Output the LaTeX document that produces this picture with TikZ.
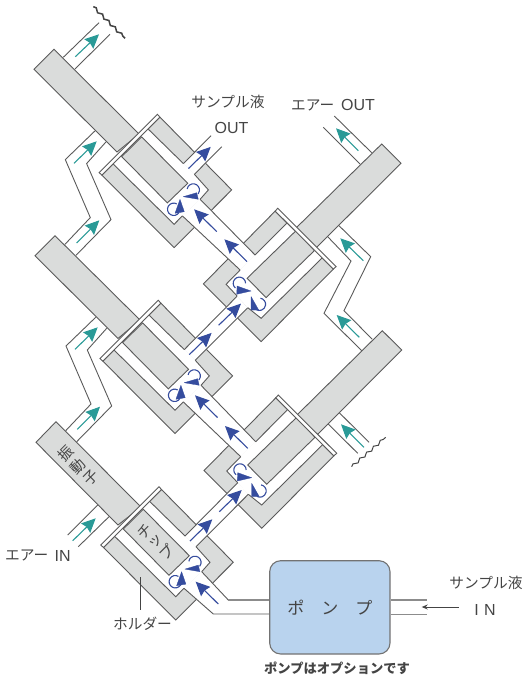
\documentclass[tikz,border=0pt]{standalone}
\usepackage{fontspec}
\setmainfont{Liberation Sans}
\newfontfamily\jpf{Noto Sans CJK JP}
\usetikzlibrary{arrows.meta,decorations.pathmorphing}
\definecolor{graybody}{HTML}{DADCDB}
\definecolor{edgecol}{HTML}{5A5A5A}
\definecolor{bluearr}{HTML}{354C9E}
\definecolor{tealarr}{HTML}{2A9A97}
\definecolor{pumpfill}{HTML}{B9D3EE}
\definecolor{txtcol}{HTML}{444444}
\tikzset{
  solidpart/.style={fill=graybody,draw=edgecol,line width=0.9pt,line join=miter},
  wall/.style={draw=edgecol,line width=0.9pt},
  flangepart/.style={fill=white,draw=edgecol,line width=0.9pt},
  bluearrow/.style={draw=bluearr,line width=1.1pt,-{Stealth[length=14pt,width=13pt,inset=1.5pt]}},
  tealarrow/.style={draw=tealarr,line width=1.1pt,-{Stealth[length=14pt,width=13pt,inset=1.5pt]}},
  swirl/.style={draw=bluearr,line width=1.1pt},
  headfill/.style={fill=bluearr,draw=bluearr,line width=0.3pt,line join=round},
  breakline/.style={draw=txtcol,decorate,decoration={snake,segment length=9pt,amplitude=1.3pt}},
  lab/.style={text=txtcol,inner sep=0pt},
  tiltchar/.style={text=txtcol,inner sep=0pt,rotate=45,font=\jpf\fontsize{14.7}{16}\selectfont},
  pumpline/.style={draw=black!45,line width=1.2pt},
}
% ---- left unit parts, coordinates of the lowest left unit
\newcommand{\LHolder}{\path[solidpart] (103.5,547.5) -- (175.7,620) -- (233.3,562.3) -- (161.5,489.5) -- cycle;}
\newcommand{\LCavity}{\path[fill=white] (114.65,536.3) -- (175.7,596.7) -- (184,588.3) -- (201.7,571.7) -- (210,562.3) -- (196,546.7) -- (185,536) -- (150,501.7) -- cycle;}
\newcommand{\LWalls}{%
  \path[wall] (150,501.7) -- (185,536);
  \path[wall] (196,546.7) -- (210,562.3) -- (201.7,571.7);
  \path[wall] (184,588.3) -- (175.7,596.7) -- (114.65,536.3);}
\newcommand{\LFront}{%
  \path[solidpart] (143.3,509.3) -- (123.3,529) -- (169,575.3) -- (189.3,555.7) -- cycle;
  \path[flangepart] (100.7,545) -- (159,486.7) -- (161.5,489.5) -- (103.5,547.5) -- cycle;}
\newcommand{\LSwirl}{%
  \path[swirl] (194.9,562.4) ++(-170:6.2pt) arc[start angle=-170,end angle=40,radius=6.2pt];
  \path[swirl] (175.3,581.7) ++(-60:6.2pt) arc[start angle=-60,end angle=-330,radius=6.2pt];
  \path[headfill] (184.9,569.1) -- (198.3,565.1) -- (199.9,571.7) -- cycle;
  \path[headfill] (181.6,571.7) -- (176.6,585.7) -- (185.9,584.1) -- cycle;}
% ---- right unit parts, coordinates of the lower right unit
\newcommand{\RHolder}{\path[solidpart] (333.9,455.8) -- (261.7,528.3) -- (204,470.6) -- (275.8,397.8) -- cycle;}
\newcommand{\RCavity}{\path[fill=white] (322.75,444.6) -- (261.7,505) -- (248.3,494.3) -- (237.7,482.7) -- (226.7,471) -- (240.7,456.7) -- (255.7,441.7) -- (287.3,410) -- cycle;}
\newcommand{\RWalls}{%
  \path[wall] (287.3,410) -- (255.7,441.7);
  \path[wall] (240.7,456.7) -- (226.7,471) -- (237.7,482.7);
  \path[wall] (248.3,494.3) -- (261.7,505) -- (322.75,444.6);}
\newcommand{\RFront}{%
  \path[solidpart] (296.7,417.3) -- (247.7,465) -- (266.7,484.3) -- (315,437.3) -- cycle;
  \path[flangepart] (336.7,453.3) -- (278.3,395) -- (275.8,397.8) -- (333.9,455.8) -- cycle;}
\newcommand{\RSwirl}{%
  \path[swirl] (240,470) ++(-230:6.2pt) arc[start angle=-230,end angle=0,radius=6.2pt];
  \path[swirl] (260,491) ++(-80:6.2pt) arc[start angle=-80,end angle=120,radius=6.2pt];
  \path[headfill] (251.7,477.7) -- (237.7,472.7) -- (237.3,481) -- cycle;
  \path[headfill] (251.7,483.3) -- (251.7,496.7) -- (259.3,496.7) -- cycle;}
\begin{document}
\begin{tikzpicture}[x=1pt,y=1pt,yscale=-1]
\useasboundingbox (0,0) rectangle (530,680);
% holders
\begin{scope}[shift={(-1.6,-372.4)}]\LHolder\end{scope}
\begin{scope}[shift={(-0.7,-186.4)}]\LHolder\end{scope}
\LHolder
\begin{scope}[shift={(-0.6,-186.7)}]\RHolder\end{scope}
\RHolder
% white channel fills
\foreach \a/\b in {0/0,-0.7/-186.4}{
  \begin{scope}[shift={(\a,\b)}]
  \path[fill=white] (185,536) -- (237.7,482.7) -- (248.3,494.3) -- (196,546.7) -- cycle;
  \end{scope}}
\path[fill=white] (255.7,441.7) -- (201,385.3) -- (183.3,401.9) -- (240.7,456.7) -- cycle;
\path[fill=white] (255.1,255) -- (200.1,199.3) -- (182.4,215.9) -- (240.1,270) -- cycle;
\path[fill=white] (201.7,571.7) -- (228.3,600) -- (270,600) -- (270,614) -- (213.3,614) -- (184,588.3) -- cycle;
\path[fill=white] (183.4,163.6) -- (211,135.7) -- (221.7,146.7) -- (194.4,174.3) -- cycle;
% cavities
\begin{scope}[shift={(-1.6,-372.4)}]\LCavity\end{scope}
\begin{scope}[shift={(-0.7,-186.4)}]\LCavity\end{scope}
\LCavity
\begin{scope}[shift={(-0.6,-186.7)}]\RCavity\end{scope}
\RCavity
% channel walls
\foreach \a/\b in {0/0,-0.7/-186.4}{
  \begin{scope}[shift={(\a,\b)}]
  \path[wall] (185,536) -- (237.7,482.7);
  \path[wall] (196,546.7) -- (248.3,494.3);
  \end{scope}}
\path[wall] (255.7,441.7) -- (201,385.3);
\path[wall] (240.7,456.7) -- (183.3,401.9);
\path[wall] (255.1,255) -- (200.1,199.3);
\path[wall] (240.1,270) -- (182.4,215.9);
\path[wall] (183.4,163.6) -- (211,135.7);
\path[wall] (194.4,174.3) -- (221.7,146.7);
\begin{scope}[shift={(-1.6,-372.4)}]\LWalls\end{scope}
\begin{scope}[shift={(-0.7,-186.4)}]\LWalls\end{scope}
\LWalls
\begin{scope}[shift={(-0.6,-186.7)}]\RWalls\end{scope}
\RWalls
% vibrators
\path[solidpart] (56,421.7) -- (36,442.3) -- (118,525) -- (141,507) -- cycle;
\path[solidpart] (55,235.7) -- (35,255.7) -- (118,338.5) -- (140,320) -- cycle;
\path[solidpart] (54,49.3) -- (34,69.3) -- (117,152) -- (139,134) -- cycle;
\path[solidpart] (382.3,330.7) -- (401.7,350) -- (317,435) -- (297,415) -- cycle;
\path[solidpart] (381.7,144) -- (401,163.3) -- (316,248) -- (296,228) -- cycle;
% chips and flanges
\begin{scope}[shift={(-1.6,-372.4)}]\LFront\end{scope}
\begin{scope}[shift={(-0.7,-186.4)}]\LFront\end{scope}
\LFront
\begin{scope}[shift={(-0.6,-186.7)}]\RFront\end{scope}
\RFront
% air lines, left
\path[wall] (97.7,505) -- (67.7,535);
\path[wall] (109,516.7) -- (78.3,546.7);
\path[wall] (65.7,430.7) -- (91,404) -- (66,346) -- (95.7,317.3);
\path[wall] (76.7,441.7) -- (111.7,406) -- (87.3,350) -- (106.7,328.3);
\path[wall] (65,244.3) -- (90.3,217.6) -- (65.3,159.6) -- (95,130.9);
\path[wall] (76,255.3) -- (111,219.6) -- (86.6,163.6) -- (106,141.9);
\path[wall] (63.3,57.3) -- (99,22.7);
\path[wall] (75,69) -- (110,34.3);
\path[breakline,line width=1.5pt] (93.3,6.7) -- (125,38.3);
% air lines, right
\path[wall] (360,164) -- (323.3,127.3);
\path[wall] (371.7,152.7) -- (334.3,116);
\path[wall] (327.7,236.7) -- (351,261) -- (324,313.3) -- (361.7,350.7);
\path[wall] (339,225.7) -- (370.7,256.7) -- (344,310.7) -- (372.3,339.3);
\path[wall] (328.3,424) -- (357.7,453.3);
\path[wall] (339.3,412.7) -- (369,442.3);
\path[breakline,line width=1pt] (351.7,466.7) -- (385.7,437.3);
% teal arrows
\path[tealarrow] (72.7,540.7) -- (95.7,518.3);
\path[tealarrow] (77.3,429.3) -- (100,406.7);
\path[tealarrow] (75,349.3) -- (97.7,327.3);
\path[tealarrow] (76.6,243) -- (99.3,220.3);
\path[tealarrow] (74,163.3) -- (96.7,141.3);
\path[tealarrow] (75.3,56.7) -- (99,34.3);
\path[tealarrow] (358.3,150.7) -- (336,128.3);
\path[tealarrow] (363.3,260.7) -- (340.3,238.3);
\path[tealarrow] (359.3,337.3) -- (336.7,315);
\path[tealarrow] (364,447.3) -- (341,424.3);
% blue arrows
\path[bluearrow] (218.3,604) -- (195.7,581.7);
\path[bluearrow] (190,541) -- (212.3,519.3);
\path[bluearrow] (219.3,511.7) -- (241.7,490);
\path[bluearrow] (247.7,448.3) -- (225,426);
\path[bluearrow] (217.6,417.6) -- (195,395.3);
\path[bluearrow] (189.3,354.6) -- (211.6,332.9);
\path[bluearrow] (218.6,325.3) -- (241,303.6);
\path[bluearrow] (247,261.6) -- (224.4,239.3);
\path[bluearrow] (216.7,231.6) -- (194.1,209.3);
\path[bluearrow] (188.4,168.6) -- (210.7,146.9);
% swirls
\begin{scope}[shift={(-1.6,-372.4)}]\LSwirl\end{scope}
\begin{scope}[shift={(-0.7,-186.4)}]\LSwirl\end{scope}
\LSwirl
\begin{scope}[shift={(-0.6,-186.7)}]\RSwirl\end{scope}
\RSwirl
% inlet walls and pump
\coordinate (inA) at (228.3,600);
\coordinate (inB) at (213.3,614);
\coordinate (outA) at (427,600);
\coordinate (outB) at (427,614.7);
\node[draw=black!55,line width=1.1pt,fill=pumpfill,rounded corners=11pt,minimum width=120.3pt,minimum height=93.3pt,inner sep=0pt,text=txtcol,font=\jpf\fontsize{17}{20}\selectfont] (pump) at (329.85,607.35) {ポ　ン　プ};
\path[wall] (201.7,571.7) -- (inA);
\path[pumpline] (inA) -- (inA -| pump.west);
\path[wall] (184,588.3) -- (inB) -- (inB -| pump.west);
\path[pumpline] (outA -| pump.east) -- (outA);
\path[pumpline] (outB -| pump.east) -- (outB);
\coordinate (feedS) at (458.7,607);
\coordinate (feedE) at (421.7,607);
\path[draw=txtcol,line width=0.9pt,-{Stealth[length=6pt,width=5pt]}] (feedS) -- (feedE);
% labels
\node[lab,font=\jpf\fontsize{14.7}{16}\selectfont] (t1) at (228,101.5) {サンプル液};
\node[lab,font=\fontsize{16}{18}\selectfont] (t2) at (231.5,128) {OUT};
\node[lab,font=\jpf\fontsize{14.7}{16}\selectfont,anchor=west] (t3) at (291,105) {エアー};
\node[lab,font=\fontsize{16}{18}\selectfont,anchor=west] (t4) at (341,105) {OUT};
\node[lab,font=\jpf\fontsize{14.7}{16}\selectfont,anchor=west] (t5) at (5,555.5) {エアー};
\node[lab,font=\fontsize{16}{18}\selectfont,anchor=west] (t6) at (54.5,555.5) {IN};
\node[lab,font=\jpf\fontsize{14.7}{16}\selectfont] (t7) at (142.5,623.3) {ホルダー};
\path[draw=txtcol,line width=0.8pt] (140.7,577.3) -- (140.7,610);
\node[lab,font=\jpf\fontsize{14.7}{16}\selectfont] (t8) at (486,582.5) {サンプル液};
\node[lab,font=\fontsize{16}{18}\selectfont] (t9) at (485,610) {I\,\,N};
\node[lab,font=\jpf\bfseries\fontsize{13.3}{15}\selectfont] (t10) at (337,668.3) {ポンプはオプションです};
\node[tiltchar] (v1) at (65.7,453.3) {振};
\node[tiltchar] (v2) at (78.3,466.7) {動};
\node[tiltchar] (v3) at (90.7,477.7) {子};
\node[tiltchar] (c1) at (145,531.7) {チ};
\node[tiltchar] (c2) at (156,541.7) {ッ};
\node[tiltchar] (c3) at (166.7,551.7) {プ};
\end{tikzpicture}
\end{document}
